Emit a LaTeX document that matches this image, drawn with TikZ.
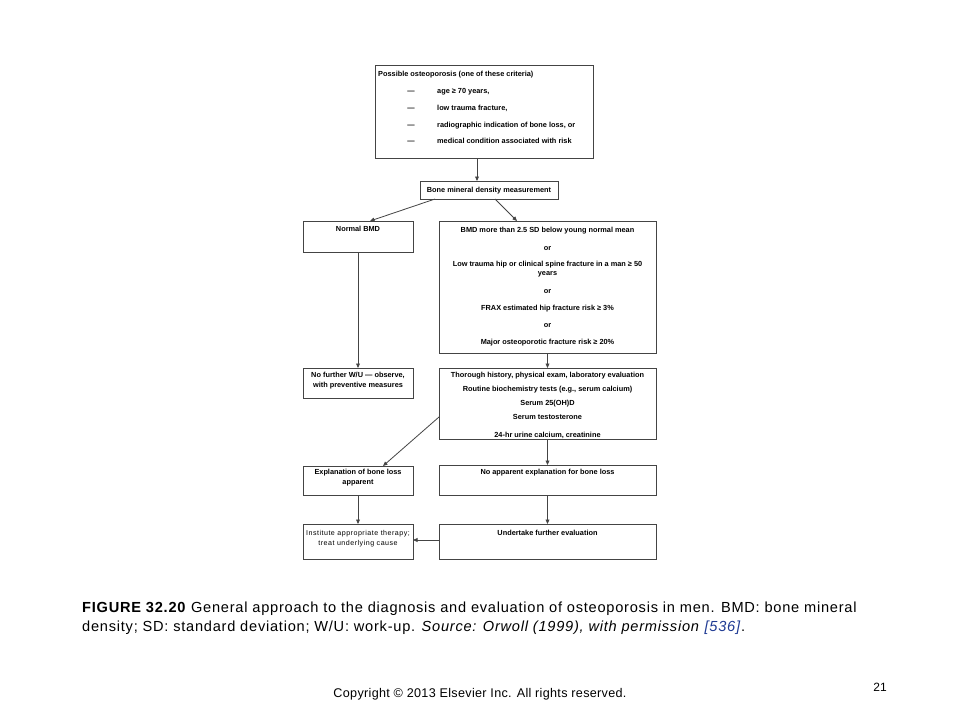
\documentclass[tikz,border=0pt]{standalone}
\usepackage{fontspec}
\setmainfont{Liberation Sans}
\usetikzlibrary{arrows.meta}
\definecolor{linegray}{HTML}{444444}
\definecolor{refblue}{HTML}{1F3A93}
\tikzset{
  box/.style={draw=linegray, line width=0.9pt, inner sep=0pt, outer sep=0pt},
  bt/.style={font=\bfseries\fontsize{7.35}{8}\selectfont, inner sep=0pt, anchor=base},
  btl/.style={bt, anchor=base west},
  rt/.style={font=\fontsize{7.1}{8}\selectfont\addfontfeature{LetterSpace=7}, inner sep=0pt, anchor=base},
  arr/.style={draw=linegray, line width=0.8pt, -{Triangle[length=4.5pt,width=3.8pt]}},
  captext/.style={font=\fontsize{14.6}{17}\selectfont\addfontfeature{LetterSpace=5.2}, inner sep=0pt, anchor=base west},
}
\begin{document}
\begin{tikzpicture}[x=1pt,y=-1pt]
\useasboundingbox[fill=white] (0,0) rectangle (960,720);
% boxes
\node[box, minimum width=218pt, minimum height=93pt] (top) at (484,111.5) {};
\node[box, minimum width=138pt, minimum height=18pt] (bmd) at (489,190) {};
\node[box, minimum width=110pt, minimum height=31pt] (normal) at (358,236.5) {};
\node[box, minimum width=217pt, minimum height=132pt] (crit) at (547.5,287) {};
\node[box, minimum width=110pt, minimum height=30pt] (nofurther) at (358,383) {};
\node[box, minimum width=217pt, minimum height=71pt] (thorough) at (547.5,403.5) {};
\node[box, minimum width=110pt, minimum height=29pt] (expl) at (358,480.5) {};
\node[box, minimum width=217pt, minimum height=30pt] (noapp) at (547.5,480) {};
\node[box, minimum width=110pt, minimum height=35pt] (inst) at (358,541.5) {};
\node[box, minimum width=217pt, minimum height=35pt] (under) at (547.5,541.5) {};
% top box text
\node[btl] (t0) at (378,76.6) {Possible osteoporosis (one of these criteria)};
\node[bt] (d1) at (411,93.1) {—};
\node[bt] (d2) at (411,110.1) {—};
\node[bt] (d3) at (411,127.1) {—};
\node[bt] (d4) at (411,143.6) {—};
\node[btl] (t1) at (437,93.1) {age ≥ 70 years,};
\node[btl] (t2) at (437,110.1) {low trauma fracture,};
\node[btl] (t3) at (437,127.1) {radiographic indication of bone loss, or};
\node[btl] (t4) at (437,143.6) {medical condition associated with risk};
% other texts
\node[bt] (tb) at (489,192.6) {Bone mineral density measurement};
\node[bt] (tn) at (358,231.6) {Normal BMD};
\node[bt] (c1) at (547.5,232.6) {BMD more than 2.5 SD below young normal mean};
\node[bt] (c2) at (547.5,250.3) {or};
\node[bt] (c3) at (547.5,266.6) {Low trauma hip or clinical spine fracture in a man ≥ 50};
\node[bt] (c4) at (547.5,275.1) {years};
\node[bt] (c5) at (547.5,293.6) {or};
\node[bt] (c6) at (547.5,310.9) {FRAX estimated hip fracture risk ≥ 3\%};
\node[bt] (c7) at (547.5,327.6) {or};
\node[bt] (c8) at (547.5,344.3) {Major osteoporotic fracture risk ≥ 20\%};
\node[bt] (n1) at (358,377.6) {No further W/U — observe,};
\node[bt] (n2) at (358,387.6) {with preventive measures};
\node[bt] (h1) at (547.5,377.6) {Thorough history, physical exam, laboratory evaluation};
\node[bt] (h2) at (547.5,391.9) {Routine biochemistry tests (e.g., serum calcium)};
\node[bt] (h3) at (547.5,405.9) {Serum 25(OH)D};
\node[bt] (h4) at (547.5,419.9) {Serum testosterone};
\node[bt] (h5) at (547.5,437.6) {24-hr urine calcium, creatinine};
\node[bt] (e1) at (358,474.9) {Explanation of bone loss};
\node[bt] (e2) at (358,484.9) {apparent};
\node[bt] (a1) at (547.5,474.9) {No apparent explanation for bone loss};
\node[bt] (u1) at (547.5,535.9) {Undertake further evaluation};
\node[rt] (i1) at (358,535.9) {Institute appropriate therapy;};
\node[rt] (i2) at (358,545.9) {treat underlying cause};
% connectors
\draw[arr] ([xshift=-7pt]top.south) -- ([xshift=-12pt]bmd.north);
\draw[arr] ([xshift=15pt]bmd.south west) -- ([xshift=12pt]normal.north);
\draw[arr] ([xshift=6pt]bmd.south) -- ([xshift=-30.5pt]crit.north);
\draw[arr] (normal.south) -- (nofurther.north);
\draw[arr] (crit.south) -- (thorough.north);
\draw[arr] ([yshift=-13.5pt]thorough.west) -- ([xshift=25pt]expl.north);
\draw[arr] (thorough.south) -- (noapp.north);
\draw[arr] (expl.south) -- (inst.north);
\draw[arr] (noapp.south) -- (under.north);
\draw[arr] ([yshift=1.5pt]under.west) -- ([yshift=1.5pt]inst.east);
% caption
\node[captext] (cap1) at (82,612.5) {\textbf{FIGURE 32.20} General approach to the diagnosis and evaluation of osteoporosis in men. BMD: bone mineral};
\node[captext] (cap2) at (82,631) {density; SD: standard deviation; W/U: work-up. \textit{Source: Orwoll (1999), with permission} \textcolor{refblue}{\textit{[536]}}.};
\node[font=\fontsize{12.6}{14}\selectfont\addfontfeature{LetterSpace=2.5}, inner sep=0pt, anchor=base] (copy) at (480,697) {Copyright © 2013 Elsevier Inc. All rights reserved.};
\node[font=\fontsize{12}{14}\selectfont, inner sep=0pt, anchor=base] (pg) at (880,691) {21};
\end{tikzpicture}
\end{document}
